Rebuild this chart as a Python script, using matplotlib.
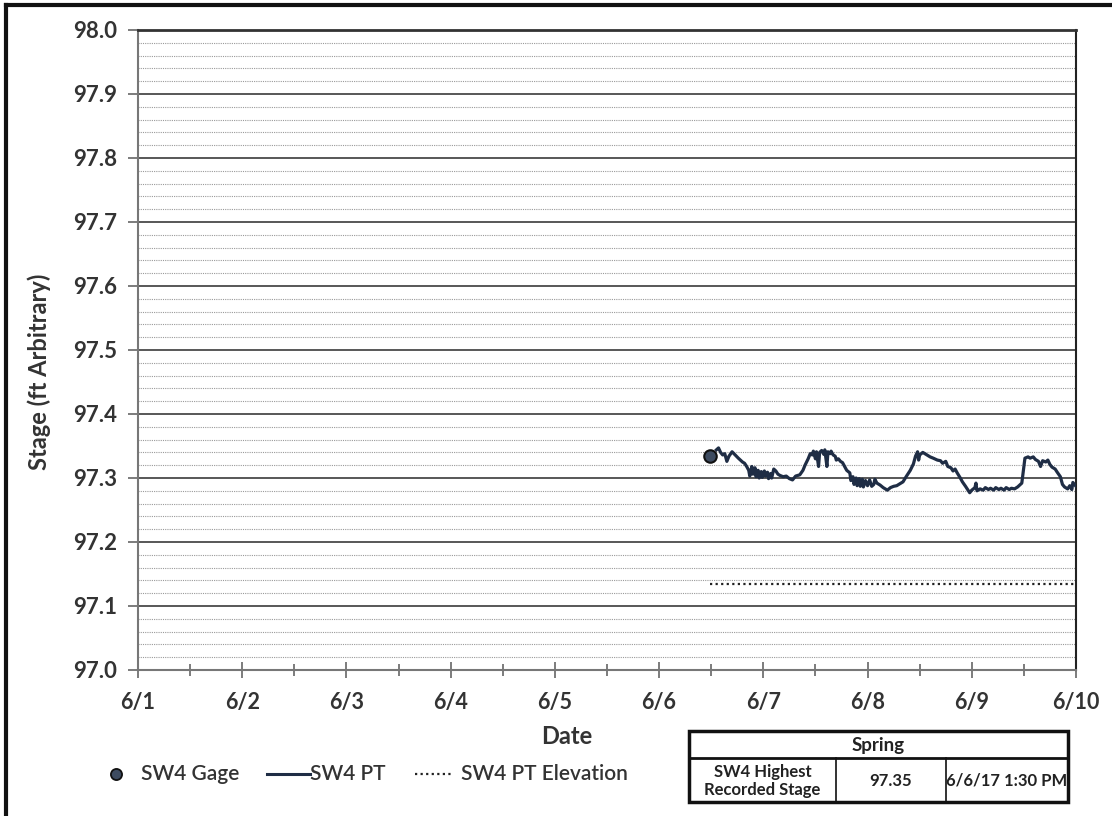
import numpy as np
import matplotlib.pyplot as plt
from matplotlib.ticker import MultipleLocator, FormatStrFormatter

plt.rcParams['font.family'] = ['Lato', 'DejaVu Sans']

# days after 6/1 00:00
date_labels = ["6/1", "6/2", "6/3", "6/4", "6/5", "6/6", "6/7", "6/8", "6/9", "6/10"]

gage_day = [5.49]
gage_stage = [97.335]

elev_day = [5.49, 9.0]
elev_stage = [97.135, 97.135]

pt_day = [
    5.55, 5.57, 5.59, 5.61, 5.63, 5.65, 5.67, 5.70, 5.73, 5.76, 5.78, 5.80, 5.82, 5.84,
    5.86, 5.87, 5.89, 5.90, 5.92, 5.93, 5.95, 5.96, 5.98, 5.99, 6.01, 6.02, 6.04, 6.05,
    6.07, 6.08, 6.10, 6.12, 6.14, 6.16, 6.19, 6.22, 6.25, 6.28, 6.31, 6.35, 6.38, 6.40,
    6.43, 6.45, 6.47, 6.48, 6.50, 6.51, 6.53, 6.54, 6.56, 6.58, 6.59, 6.61, 6.62, 6.64,
    6.65, 6.67, 6.69, 6.70, 6.72, 6.74, 6.76, 6.78, 6.80, 6.83, 6.84, 6.86, 6.87, 6.89,
    6.90, 6.92, 6.93, 6.95, 6.96, 6.98, 7.00, 7.02, 7.04, 7.06, 7.07, 7.09, 7.12, 7.15,
    7.19, 7.22, 7.25, 7.28, 7.31, 7.34, 7.37, 7.41, 7.44, 7.46, 7.48, 7.49, 7.50, 7.53,
    7.56, 7.60, 7.63, 7.67, 7.70, 7.72, 7.75, 7.77, 7.80, 7.82, 7.84, 7.86, 7.89, 7.91,
    7.94, 7.96, 7.98, 8.00, 8.03, 8.04, 8.05, 8.08, 8.11, 8.13, 8.16, 8.18, 8.21, 8.23,
    8.26, 8.28, 8.31, 8.33, 8.36, 8.38, 8.41, 8.44, 8.48, 8.51, 8.54, 8.56, 8.59, 8.61,
    8.64, 8.66, 8.68, 8.71, 8.73, 8.75, 8.77, 8.80, 8.82, 8.85, 8.87, 8.89, 8.92, 8.94,
    8.96, 8.97, 9.00,
]
pt_stage = [
    97.344, 97.347, 97.340, 97.336, 97.338, 97.326, 97.334, 97.341, 97.336, 97.331, 97.328, 97.325, 97.323, 97.318,
    97.312, 97.303, 97.318, 97.306, 97.316, 97.302, 97.312, 97.300, 97.310, 97.301, 97.311, 97.303, 97.309, 97.299,
    97.307, 97.300, 97.314, 97.311, 97.306, 97.304, 97.302, 97.303, 97.299, 97.297, 97.303, 97.305, 97.312, 97.320,
    97.330, 97.338, 97.336, 97.342, 97.330, 97.341, 97.318, 97.340, 97.343, 97.337, 97.344, 97.318, 97.341, 97.338,
    97.342, 97.336, 97.334, 97.328, 97.330, 97.326, 97.324, 97.318, 97.312, 97.308, 97.296, 97.302, 97.290, 97.300,
    97.288, 97.299, 97.287, 97.298, 97.286, 97.296, 97.288, 97.297, 97.287, 97.290, 97.298, 97.292, 97.289, 97.285,
    97.281, 97.285, 97.287, 97.288, 97.291, 97.294, 97.302, 97.312, 97.322, 97.334, 97.341, 97.328, 97.336, 97.340,
    97.337, 97.333, 97.331, 97.328, 97.327, 97.323, 97.326, 97.318, 97.316, 97.311, 97.314, 97.308, 97.300, 97.294,
    97.287, 97.282, 97.277, 97.281, 97.285, 97.292, 97.280, 97.283, 97.281, 97.285, 97.282, 97.284, 97.281, 97.285,
    97.282, 97.284, 97.281, 97.285, 97.282, 97.284, 97.283, 97.286, 97.292, 97.331, 97.333, 97.331, 97.333, 97.329,
    97.326, 97.318, 97.327, 97.325, 97.328, 97.321, 97.317, 97.314, 97.309, 97.302, 97.290, 97.286, 97.283, 97.288,
    97.282, 97.293, 97.287,
]

legend_labels = ["SW4 Gage", "SW4 PT", "SW4 PT Elevation"]
table_header = "Spring"
table_row = ["SW4 Highest\nRecorded Stage", "97.35", "6/6/17 1:30 PM"]

W, H = 1112, 816
fig = plt.figure(figsize=(W / 100, H / 100), dpi=100)
ax = fig.add_axes([138 / W, 1 - 670 / H, (1076 - 138) / W, (670 - 30) / H])

line_col = "#1f2d45"
dot_style = (0, (1, 1.5))
ax.plot(pt_day, pt_stage, color=line_col, lw=2.3, zorder=4)
ax.plot(elev_day, elev_stage, color="#222222", lw=1.6, ls=dot_style, zorder=4)
ax.plot(gage_day, gage_stage, "o", ms=9, mfc="#3d4b60", mec="#111111", mew=1.5, zorder=5)

ax.set_xlim(0, 9)
ax.set_ylim(97.0, 98.0)
ax.set_xticks(range(len(date_labels)))
ax.set_xticklabels(date_labels)
ax.xaxis.set_minor_locator(MultipleLocator(0.5))
ax.yaxis.set_major_locator(MultipleLocator(0.1))
ax.yaxis.set_minor_locator(MultipleLocator(0.02))
ax.yaxis.set_major_formatter(FormatStrFormatter("%.1f"))

ax.grid(which="major", axis="y", color="#4a4a4a", lw=1.3)
ax.grid(which="minor", axis="y", color="#9a9a9a", lw=0.8, ls=(0, (1, 1)))
ax.set_axisbelow(True)

ax.tick_params(axis="x", which="both", direction="inout", length=12, width=1.2,
               color="#666666", pad=10, labelsize=15.5, labelcolor="#333333")
ax.tick_params(axis="x", which="minor", length=8)
ax.tick_params(axis="y", which="major", direction="out", length=7, width=1.2,
               color="#666666", pad=8, labelsize=16, labelcolor="#333333")
ax.tick_params(axis="y", which="minor", length=0)
for lab in ax.get_xticklabels() + ax.get_yticklabels():
    lab.set_fontweight("bold")

for s in ["left", "bottom"]:
    ax.spines[s].set_color("#777777")
    ax.spines[s].set_linewidth(1.5)
ax.spines["top"].set_color("#333333")
ax.spines["top"].set_linewidth(2)
ax.spines["right"].set_color("#222222")
ax.spines["right"].set_linewidth(1.5)

ax.set_ylabel("Stage (ft Arbitrary)", fontsize=17, fontweight="bold", color="#333333")
ax.yaxis.set_label_coords(-87 / (1076 - 138), (670 - 372) / 640)
fig.text(567 / W, 1 - 737 / H, "Date", fontsize=17, fontweight="bold", color="#333333",
         ha="center", va="center")

# overlay in pixel coordinates for legend, table and frame
ov = fig.add_axes([0, 0, 1, 1], zorder=6)
ov.set_xlim(0, W)
ov.set_ylim(H, 0)
ov.axis("off")

ly = 774
leg_kw = dict(fontsize=15, fontweight="semibold", color="#333333", va="center", ha="left")
ov.plot([116], [ly], "o", ms=8, mfc="#3d4b60", mec="#111111", mew=1.3)
ov.text(141, ly, legend_labels[0], **leg_kw)
ov.plot([267, 310], [ly, ly], color=line_col, lw=2.2)
ov.text(310, ly, legend_labels[1], **leg_kw)
ov.plot([415, 453], [ly, ly], color="#222222", lw=1.6, ls=dot_style)
ov.text(461, ly, legend_labels[2], **leg_kw)

# table
tx0, tx1 = 689, 1068
ty0, ty1, ty2 = 731, 758, 802
cols = [689, 836, 946, 1068]
ov.add_patch(plt.Rectangle((tx0, ty0), tx1 - tx0, ty2 - ty0, fill=True, fc="white",
                           ec="#111111", lw=2.5))
ov.plot([tx0, tx1], [ty1, ty1], color="#111111", lw=2)
for cx in cols[1:-1]:
    ov.plot([cx, cx], [ty1, ty2], color="#111111", lw=1.2)
ov.text((tx0 + tx1) / 2, (ty0 + ty1) / 2 + 1, table_header, ha="center", va="center",
        fontsize=13.5, fontweight="bold", color="#222222")
for i, txt in enumerate(table_row):
    ov.text((cols[i] + cols[i + 1]) / 2, (ty1 + ty2) / 2 + 1, txt, ha="center", va="center",
            fontsize=12, fontweight="bold", color="#222222", linespacing=1.1)

# outer frame
ov.plot([6, 6], [5, H], color="#111111", lw=3)
ov.plot([6, W], [5, 5], color="#111111", lw=3)

fig.savefig("out.png", dpi=100, facecolor="white")
